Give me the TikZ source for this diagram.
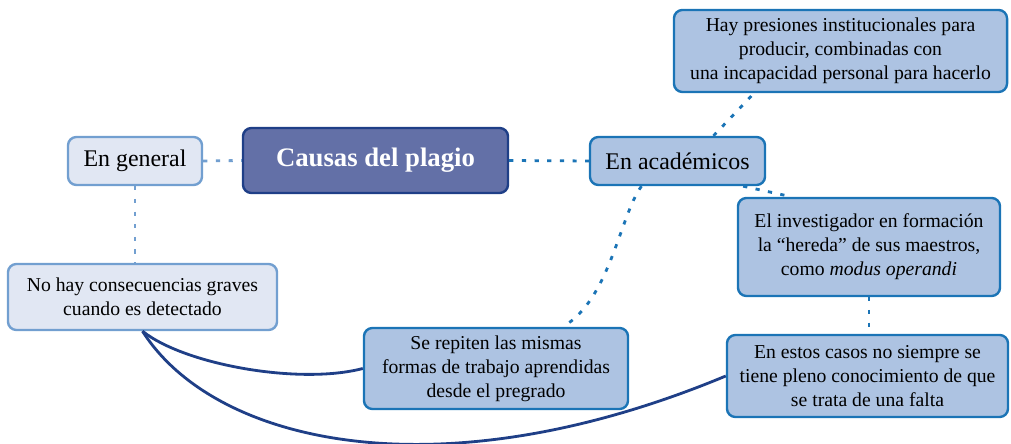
\documentclass[tikz,border=0pt]{standalone}
\usepackage{fontspec}
\setmainfont{Liberation Serif}
\usepackage{xcolor}
\usetikzlibrary{calc}
\definecolor{navy}{HTML}{1F3F87}
\definecolor{mainfill}{HTML}{6370A7}
\definecolor{palefill}{HTML}{E1E7F3}
\definecolor{paleline}{HTML}{729FD0}
\definecolor{midfill}{HTML}{ADC3E2}
\definecolor{midline}{HTML}{1B74B6}

\begin{document}
\begin{tikzpicture}[x=0.025cm,y=-0.025cm,
		caja/.style = {draw, line width=1.7pt, rounded corners=6pt, align=center,
			inner sep=2pt, font=\fontsize{14}{17}\selectfont},
		pale/.style = {caja, fill=palefill, draw=paleline},
		medio/.style = {caja, fill=midfill, draw=midline},
		punteado/.style = {line width=2pt, dash pattern=on 3pt off 6pt},
		enlace/.style = {draw=navy, line width=2pt},
	]
	\useasboundingbox (0,0) rectangle (1011,444);
	% nodos
	\node[caja, fill=mainfill, draw=navy, text=white, minimum width=6.625cm, minimum height=1.625cm,
		font=\fontsize{19}{22}\selectfont\bfseries] (causas) at (375.5,160.5) {Causas del plagio};
	\node[pale, minimum width=3.35cm, minimum height=1.2cm, font=\fontsize{17}{20}\selectfont]
		(general) at (135,161) {En general};
	\node[medio, minimum width=4.375cm, minimum height=1.2cm, font=\fontsize{17}{20}\selectfont]
		(acad) at (677.5,161) {En académicos};
	\node[medio, minimum width=8.325cm, minimum height=2.05cm] (presiones) at (840.5,51)
		{Hay presiones institucionales para\\ producir, combinadas con\\ una incapacidad personal para hacerlo};
	\node[medio, minimum width=6.55cm, minimum height=2.45cm] (invest) at (869,247)
		{El investigador en formación\\ la “hereda” de sus maestros,\\ como \textit{modus operandi}};
	\node[pale, minimum width=6.725cm, minimum height=1.65cm] (nohay) at (142.5,297)
		{No hay consecuencias graves\\ cuando es detectado};
	\node[medio, minimum width=6.6cm, minimum height=2.025cm] (repiten) at (496,368.5)
		{Se repiten las mismas\\ formas de trabajo aprendidas\\ desde el pregrado};
	\node[medio, minimum width=7.025cm, minimum height=2.05cm] (casos) at (867.5,376)
		{En estos casos no siempre se\\ tiene pleno conocimiento de que\\ se trata de una falta};
	% conectores punteados
	\draw[punteado, paleline] (general.east) -- (causas.west);
	\draw[punteado, paleline] (general.south) -- (general.south |- nohay.north);
	\draw[punteado, midline] (causas.east) -- (acad.west);
	\draw[punteado, midline] (acad.35) -- (presiones.206);
	\draw[punteado, midline] (acad.-21) -- (invest.147.5);
	\draw[punteado, midline] (acad.215) .. controls (620,215) and (610,300) .. (repiten.32);
	\draw[punteado, midline] (invest.south) -- (invest.south |- casos.north);
	% conectores continuos
	\draw[enlace] (nohay.south) .. controls (185,365) and (300,385) .. (repiten.west);
	\draw[enlace] (nohay.south) .. controls (215,445) and (440,495) .. (casos.west);
\end{tikzpicture}
\end{document}
